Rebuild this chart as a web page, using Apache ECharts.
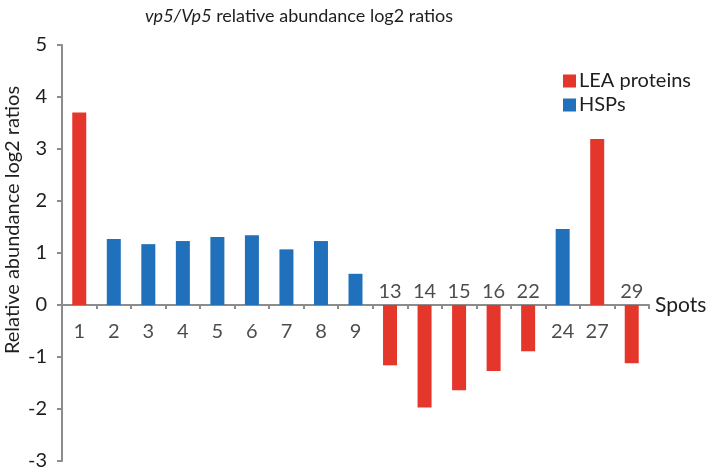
<!DOCTYPE html>
<html>
<head>
<meta charset="utf-8">
<script src="https://cdn.jsdelivr.net/npm/echarts@6/dist/echarts.min.js"></script>
<style>html,body{margin:0;padding:0;background:#fff}#c{width:708px;height:469px}</style>
</head>
<body>
<div id="c"></div>
<script>
const categories = ['1','2','3','4','5','6','7','8','9','13','14','15','16','22','24','27','29'];
const values = [3.70, 1.27, 1.17, 1.23, 1.31, 1.34, 1.07, 1.23, 0.60, -1.16, -1.97, -1.64, -1.27, -0.89, 1.46, 3.19, -1.12];
const groups = ['LEA','HSP','HSP','HSP','HSP','HSP','HSP','HSP','HSP','LEA','LEA','LEA','LEA','LEA','HSP','LEA','LEA'];
const seriesNames = ['LEA proteins', 'HSPs'];
const yTicks = [-3, -2, -1, 0, 1, 2, 3, 4, 5];

const leaData = values.map((v, i) => groups[i] === 'LEA' ? v : '-');
const hspData = values.map((v, i) => groups[i] === 'HSP' ? v : '-');

const FONT = 'Lato';
// category labels sit at the zero line: below it for positive bars, above it for negative bars
const labelData = categories.map((c, i) => ({
  value: [c, 0],
  label: values[i] < 0 ? { position: 'top', distance: 3 } : { position: 'bottom', distance: 17 }
}));

const chart = echarts.init(document.getElementById('c'));
chart.setOption({
  animation: false,
  textStyle: { fontFamily: FONT },
  title: {
    text: '{i|vp5/Vp5} relative abundance log2 ratios',
    left: 140, top: 2,
    textStyle: {
      fontFamily: FONT, fontSize: 18, fontWeight: 'normal', color: '#1e1e1e',
      rich: { i: { fontFamily: FONT, fontSize: 18, fontStyle: 'italic', color: '#1e1e1e' } }
    }
  },
  legend: {
    orient: 'vertical', left: 558, top: 66,
    icon: 'rect', itemWidth: 13, itemHeight: 13, itemGap: 4,
    textStyle: { fontFamily: FONT, fontSize: 20, color: '#1e1e1e', padding: [0,0,0,-2] },
    data: seriesNames
  },
  grid: { left: 62, right: 59, top: 45, bottom: 8, containLabel: false, outerBoundsMode: 'none' },
  xAxis: {
    type: 'category', data: categories,
    axisLine: { onZero: true, lineStyle: { color: '#8c8c8c', width: 2 } },
    axisTick: { show: true, length: 4, alignWithLabel: false, lineStyle: { color: '#8c8c8c', width: 2 } },
    axisLabel: { show: false },
    name: 'Spots', nameLocation: 'end', nameGap: 6,
    nameTextStyle: { fontFamily: FONT, fontSize: 21, color: '#1e1e1e', verticalAlign: 'middle' }
  },
  yAxis: {
    type: 'value', min: yTicks[0], max: yTicks[yTicks.length - 1], interval: 1,
    axisLine: { show: true, lineStyle: { color: '#8c8c8c', width: 2 } },
    axisTick: { show: true, length: 5, lineStyle: { color: '#8c8c8c', width: 2 } },
    splitLine: { show: false },
    axisLabel: { margin: 15, color: '#1e1e1e', fontFamily: FONT, fontSize: 20 },
    name: 'Relative abundance log2 ratios', nameLocation: 'middle', nameGap: 39, nameRotate: 90,
    nameMoveOverlap: false,
    nameTextStyle: { fontFamily: FONT, fontSize: 20, color: '#1e1e1e', padding: [0, 0, 0, 66] }
  },
  series: [
    { name: seriesNames[0], type: 'bar', stack: 's', data: leaData, barWidth: 14, itemStyle: { color: '#e5362c' } },
    { name: seriesNames[1], type: 'bar', stack: 's', data: hspData, barWidth: 14, itemStyle: { color: '#2170bb' } },
    {
      name: 'labels', type: 'scatter', data: labelData, symbolSize: 0, silent: true, z: 5,
      label: {
        show: true, fontFamily: FONT, fontSize: 20, color: '#1e1e1e',
        formatter: p => p.value[0]
      }
    }
  ]
});
</script>
</body>
</html>
